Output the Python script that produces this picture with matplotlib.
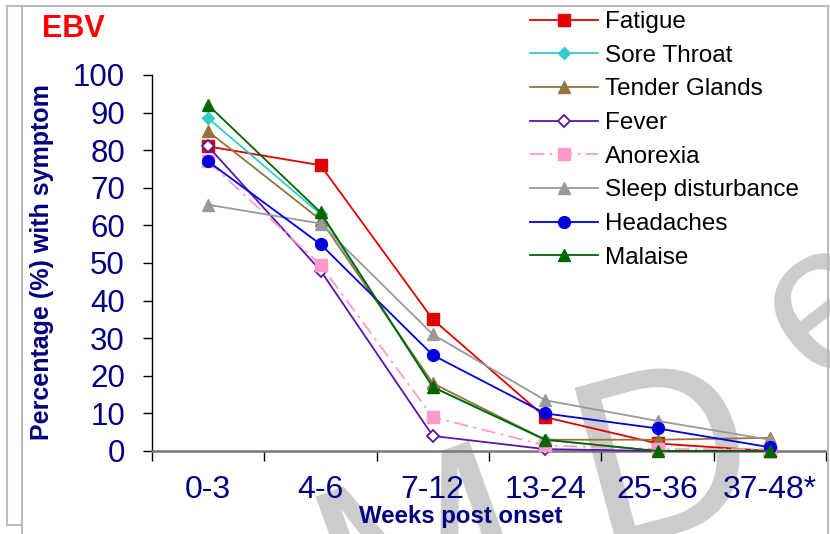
import matplotlib
matplotlib.use("Agg")
import matplotlib.pyplot as plt
from matplotlib.lines import Line2D
import numpy as np

plt.rcParams['font.family'] = ['Liberation Sans', 'DejaVu Sans']

weeks = ["0-3", "4-6", "7-12", "13-24", "25-36", "37-48*"]
fatigue = [81, 76, 35, 9, 2, 0]
sore_throat = [88.5, 63, 17, 3, 0, 0]
tender_glands = [85, 61.5, 18, 3, 3, 3.5]
fever = [81, 48, 4, 0.5, 0, 0]
anorexia = [77, 49.5, 9, 1.5, 0.5, 0.5]
sleep_disturbance = [65.5, 60.5, 31, 13.5, 8, 3]
headaches = [77, 55, 25.5, 10, 6, 1]
malaise = [92, 63.5, 17, 3, 0, 0]

series = [
    ("Fatigue", fatigue, dict(color='#E00000', marker='s', ms=8.5, mfc='#E00000', mec='#E00000', ls='-')),
    ("Sore Throat", sore_throat, dict(color='#33CCCC', marker='D', ms=6, mfc='#33CCCC', mec='#33CCCC', ls='-')),
    ("Tender Glands", tender_glands, dict(color='#93743F', marker='^', ms=9, mfc='#93743F', mec='#93743F', ls='-')),
    ("Fever", fever, dict(color='#5A14AA', marker='D', ms=6, mfc='white', mec='#5A14AA', mew=1.3, ls='-')),
    ("Anorexia", anorexia, dict(color='#FF99CC', marker='s', ms=8.5, mfc='#FF99CC', mec='#FF99CC', ls=(0, (8, 3, 1.5, 3)))),
    ("Sleep disturbance", sleep_disturbance, dict(color='#999999', marker='^', ms=9, mfc='#999999', mec='#999999', ls='-')),
    ("Headaches", headaches, dict(color='#0000DD', marker='o', ms=8.5, mfc='#0000DD', mec='#0000DD', ls='-')),
    ("Malaise", malaise, dict(color='#006600', marker='^', ms=9, mfc='#006600', mec='#006600', ls='-')),
]

W, H = 830, 534
fig = plt.figure(figsize=(W/100, H/100), dpi=100)

def px(xp, yp):
    return (xp/W, 1-yp/H)

# slide frame lines
frame_col = '#BBBBBB'
fig.add_artist(Line2D([7/W, 828/W], [1-6/H, 1-6/H], color=frame_col, lw=1.5))
fig.add_artist(Line2D([7/W, 7/W], [1-6/H, 1-525/H], color=frame_col, lw=1.5))
fig.add_artist(Line2D([7/W, 22/W], [1-525/H, 1-525/H], color=frame_col, lw=1.5))
fig.add_artist(Line2D([22/W, 22/W], [1-6/H, 0], color=frame_col, lw=1.5))
fig.add_artist(Line2D([828/W, 828/W], [1-6/H, 0], color=frame_col, lw=1.5))

# watermark (behind the plot)
wm = dict(color='#CCCCCC', ha='left', va='baseline', rotation_mode='anchor', zorder=-1)
fig.text(*px(353, 654), "M", rotation=20, fontsize=176, **wm)
fig.text(*px(598, 549), "D", rotation=15, fontsize=176, **wm)
fig.text(*px(817, 385), "e", rotation=38, fontsize=152, **wm)

left, right = 152/W, 826/W
bottom, top = 1-451/H, 1-75/H
ax = fig.add_axes([left, bottom, right-left, top-bottom])
ax.set_facecolor('none')

x = np.arange(len(weeks))
for name, vals, st in series:
    ax.plot(x, vals, label=name, lw=1.3, clip_on=False, zorder=3, **st)

ax.set_xlim(-0.5, len(weeks)-0.5)
ax.set_ylim(0, 100)
ax.set_yticks(np.arange(0, 101, 10))
ax.set_xticks(x)
ax.set_xticklabels(weeks)
ax.set_xticks(np.arange(-0.5, len(weeks), 1.0), minor=True)
ax.tick_params(axis='x', which='major', length=0, pad=17.5, labelsize=23, labelcolor='#000080')
ax.tick_params(axis='x', which='minor', length=7, width=1, color='black', direction='out')
ax.tick_params(axis='y', which='major', length=6.5, width=1, color='black', pad=13, labelsize=22.5, labelcolor='#000080')
for s in ['top', 'right']:
    ax.spines[s].set_visible(False)
ax.spines['left'].set_color('black')
ax.spines['left'].set_linewidth(1)
ax.spines['bottom'].set_color('#777777')
ax.spines['bottom'].set_linewidth(1.8)

fig.text(461/W, 1-517/H, "Weeks post onset", ha='center', va='center', fontsize=17.3,
         fontweight='bold', color='#000080')
fig.text(42/W, 1-262/H, "Percentage (%) with symptom", ha='center', va='center', rotation=90,
         fontsize=18, fontweight='bold', color='#000080')
fig.text(42/W, 1-29/H, "EBV", ha='left', va='center', fontsize=22, fontweight='bold', color='#FF0000')

fig.legend(loc='upper left', bbox_to_anchor=(530/W, 1-11/H), frameon=False, fontsize=17.5,
           handlelength=2.8, handletextpad=0.29, labelspacing=0.48, borderpad=0, borderaxespad=0)

fig.savefig("out.png", dpi=100)
